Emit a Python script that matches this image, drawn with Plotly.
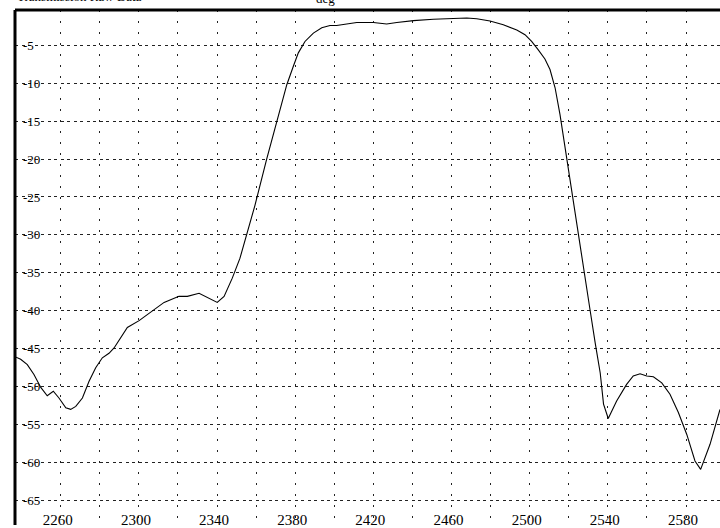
import plotly.graph_objects as go

freq_mhz = [2236.1, 2239.5, 2242.9, 2246.3, 2249.8, 2253.1, 2256.2, 2259.1, 2262.6, 2265.1,
            2267.7, 2271.1, 2274.5, 2277.9, 2281.3, 2284.7, 2287.3, 2290.7, 2294.1, 2300.1,
            2306.1, 2312.9, 2320.5, 2324.8, 2330.8, 2336.8, 2340.1, 2343.6, 2347.8, 2351.7,
            2359.4, 2365.4, 2370.5, 2375.7, 2379.0, 2381.6, 2385.0, 2389.3, 2393.6, 2397.8,
            2401.2, 2406.4, 2411.5, 2420.0, 2426.8, 2432.0, 2440.5, 2450.7, 2460.9, 2467.8,
            2472.9, 2479.7, 2486.5, 2493.4, 2497.6, 2501.0, 2504.4, 2507.8, 2510.4, 2513.0,
            2515.5, 2518.6, 2521.7, 2524.8, 2527.8, 2530.9, 2533.5, 2536.1, 2537.8, 2540.2,
            2544.5, 2549.6, 2553.0, 2556.5, 2559.9, 2563.3, 2567.6, 2571.8, 2576.1, 2580.4,
            2584.6, 2587.5, 2592.3, 2597.4]
mag_db = [-46.0, -46.4, -47.1, -48.4, -50.1, -51.2, -50.6, -51.5, -52.8, -53.0,
          -52.6, -51.5, -49.3, -47.5, -46.2, -45.6, -44.9, -43.6, -42.2, -41.3,
          -40.2, -38.9, -38.1, -38.1, -37.7, -38.5, -38.9, -38.1, -35.7, -33.1,
          -26.1, -20.0, -15.0, -10.2, -7.8, -6.0, -4.5, -3.4, -2.7, -2.4,
          -2.4, -2.2, -2.0, -2.0, -2.2, -2.0, -1.75, -1.57, -1.5, -1.4,
          -1.5, -1.8, -2.3, -3.0, -3.6, -4.5, -5.6, -6.8, -8.2, -10.6,
          -14.1, -19.4, -24.6, -30.0, -35.1, -39.9, -44.2, -48.2, -52.3, -54.2,
          -51.9, -49.7, -48.6, -48.3, -48.6, -48.7, -49.5, -51.0, -53.4, -56.3,
          -59.8, -60.9, -57.6, -53.0]

x_grid = list(range(2240, 2581, 20))
x_labels = [str(v) if (v - 2260) % 40 == 0 else "" for v in x_grid]
y_ticks = list(range(-65, 0, 5))
y_labels = [str(v) for v in y_ticks]

fig = go.Figure()
fig.add_trace(go.Scatter(x=freq_mhz, y=mag_db, mode="lines",
                         line=dict(color="black", width=1.1), hoverinfo="skip"))

font = "Liberation Serif, Times New Roman, serif"
fig.update_layout(
    width=720, height=528,
    margin=dict(l=15, r=0, t=10, b=0),
    paper_bgcolor="white", plot_bgcolor="white",
    showlegend=False,
    xaxis=dict(range=[2236.6, 2597.4], tickvals=x_grid, ticktext=x_labels,
               ticklabelposition="inside", ticks="", showline=False, zeroline=False,
               showgrid=True, gridcolor="#222", gridwidth=1, griddash="2px,9px",
               tickfont=dict(family=font, size=15, color="black"),
               ticklabelshift=-3, ticklabelstandoff=-6),
    yaxis=dict(range=[-68.24, -0.35], tickvals=y_ticks, ticktext=y_labels,
               ticklabelposition="inside", ticks="", showline=False, zeroline=False,
               showgrid=True, gridcolor="#222", gridwidth=1, griddash="3px,3.5px",
               tickfont=dict(family=font, size=13, color="black"),
               ticklabelstandoff=5),
    shapes=[
        dict(type="line", xref="paper", yref="paper", x0=0, x1=0, y0=0, y1=1,
             line=dict(color="black", width=3)),
        dict(type="line", xref="paper", yref="paper", x0=0, x1=1, y0=1, y1=1,
             line=dict(color="black", width=3)),
    ],
    annotations=[
        dict(text="Transmission Raw Data", xref="paper", yref="paper", x=0.0, y=1,
             xanchor="left", yanchor="bottom", yshift=4, showarrow=False,
             font=dict(family=font, size=13, color="black")),
        dict(text="deg", x=2395.3, xref="x", yref="paper", y=1,
             xanchor="center", yanchor="bottom", yshift=2, showarrow=False,
             font=dict(family=font, size=13, color="black")),
    ],
)

fig.write_html("out.html", config={"displayModeBar": False},
               post_script="document.body.style.margin='0';document.body.style.overflow='hidden';")
